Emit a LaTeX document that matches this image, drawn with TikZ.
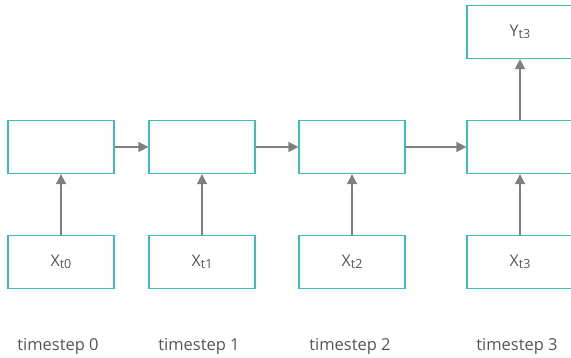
\documentclass[tikz,border=0pt]{standalone}
\usepackage{fontspec}
\setmainfont{Open Sans}
\usetikzlibrary{arrows.meta}
\definecolor{boxc}{HTML}{3DBDBD}
\definecolor{arrc}{HTML}{7F7F7F}
\definecolor{txtc}{HTML}{555555}
\newcommand{\sbs}[1]{{\fontsize{12.5}{13}\selectfont\raisebox{-2.5pt}{#1}}}
\tikzset{
  cell/.style={draw=boxc, line width=1.3pt, minimum width=106pt, minimum height=53pt, inner sep=0pt, text=txtc, font=\fontsize{16}{18}\selectfont},
  conn/.style={draw=arrc, line width=1.6pt, -{Triangle[length=10pt,width=10pt]}},
  lbl/.style={text=txtc, font=\fontsize{16.5}{18}\selectfont}
}
\begin{document}
\begin{tikzpicture}[x=1pt,y=-1pt]
\useasboundingbox (0,0) rectangle (571,358);
\clip (0,0) rectangle (571,358);
% middle row
\node[cell] (h0) at (61,147) {};
\node[cell] (h1) at (202,147) {};
\node[cell] (h2) at (352,147) {};
\node[cell] (h3) at (520,147) {};
% inputs
\node[cell] (x0) at (61,262) {X\sbs{t0}};
\node[cell] (x1) at (202,262) {X\sbs{t1}};
\node[cell] (x2) at (352,262) {X\sbs{t2}};
\node[cell] (x3) at (520,262) {X\sbs{t3}};
% output
\node[cell] (y3) at (520,32) {Y\sbs{t3}};
% labels
\node[lbl] (l0) at (58,346) {timestep 0};
\node[lbl] (l1) at (199,346) {timestep 1};
\node[lbl] (l2) at (350,346) {timestep 2};
\node[lbl] (l3) at (517,346) {timestep 3};
% connectors
\draw[conn] (x0) -- (h0);
\draw[conn] (x1) -- (h1);
\draw[conn] (x2) -- (h2);
\draw[conn] (x3) -- (h3);
\draw[conn] (h0) -- (h1);
\draw[conn] (h1) -- (h2);
\draw[conn] (h2) -- (h3);
\draw[conn] (h3) -- (y3);
\end{tikzpicture}
\end{document}
